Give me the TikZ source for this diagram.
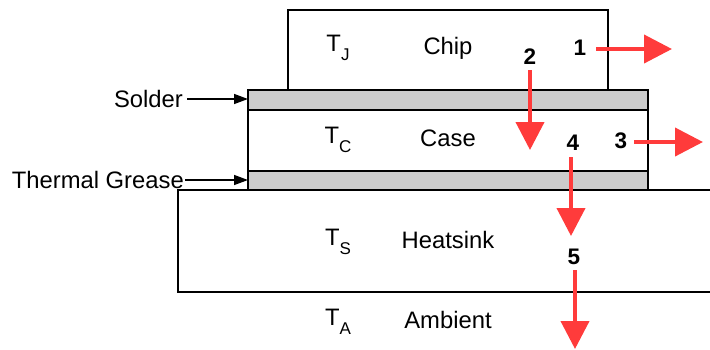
\documentclass[tikz,border=0pt]{standalone}
\usepackage{fontspec}
\setmainfont{Liberation Sans}
\usetikzlibrary{arrows.meta}
\definecolor{hotred}{HTML}{FF3B3B}
\definecolor{layergray}{HTML}{CCCCCC}
\newcommand{\Tsub}[1]{T\raisebox{-0.4em}{\fontsize{17}{17}\selectfont #1}}
\begin{document}
\begin{tikzpicture}[x=1pt,y=-1pt,
  layer/.style={draw=black,line width=1.6pt,minimum width=#1,inner sep=0pt,outer sep=0pt},
  lbl/.style={font=\fontsize{23.8}{24}\selectfont,inner sep=0pt},
  num/.style={font=\fontsize{22.5}{23}\selectfont\bfseries,inner sep=0pt},
  heat/.style={draw=hotred,line width=4pt,-{Triangle[length=28pt,width=28pt]}},
  pointer/.style={draw=black,line width=1.4pt,-{Triangle[length=14pt,width=10pt]}}]
\useasboundingbox (0,0) rectangle (710,349);
% layers
\node[layer=534pt,minimum height=102pt,fill=white] (sink) at (445,241) {};
\node[layer=320pt,minimum height=80pt,fill=white] (chip) at (448,50) {};
\node[layer=400pt,minimum height=61pt,fill=white] (case) at (448,140.5) {};
\node[layer=400pt,minimum height=20pt,fill=layergray] (solder) at (448,100) {};
\node[layer=400pt,minimum height=19pt,fill=layergray] (grease) at (448,180.5) {};
% texts
\node[lbl] (tj) at (338,48) {\Tsub{J}};
\node[lbl] (chipt) at (448,48) {Chip};
\node[lbl] (tc) at (338,140) {\Tsub{C}};
\node[lbl] (caset) at (448,138) {Case};
\node[lbl] (ts) at (338,242) {\Tsub{S}};
\node[lbl] (sinkt) at (448,240) {Heatsink};
\node[lbl] (ta) at (338,322) {\Tsub{A}};
\node[lbl] (ambt) at (448,320) {Ambient};
% side labels
\node[lbl,anchor=east] (soldert) at (183,99) {Solder};
\node[lbl,anchor=east] (greaset) at (184,180) {Thermal Grease};
\draw[pointer] (soldert.east) ++(4,0) -- (solder.west |- soldert.east);
\draw[pointer] (greaset.east) ++(1,0) -- (grease.west |- greaset.east);
% heat paths
\node[num] (n1) at (580,48) {1};
\node[num] (n2) at (530,57) {2};
\node[num] (n3) at (621,141) {3};
\node[num] (n4) at (573,143) {4};
\node[num] (n5) at (574,257) {5};
\coordinate (e1) at (672,49);
\coordinate (e2) at (530,150);
\coordinate (e3) at (703,142);
\coordinate (e4) at (571,236);
\coordinate (e5) at (575,349);
\draw[heat] (596,49) -- (e1);
\draw[heat] (530,70) -- (e2);
\draw[heat] (634,142) -- (e3);
\draw[heat] (571,157) -- (e4);
\draw[heat] (575,270) -- (e5);
\end{tikzpicture}
\end{document}
